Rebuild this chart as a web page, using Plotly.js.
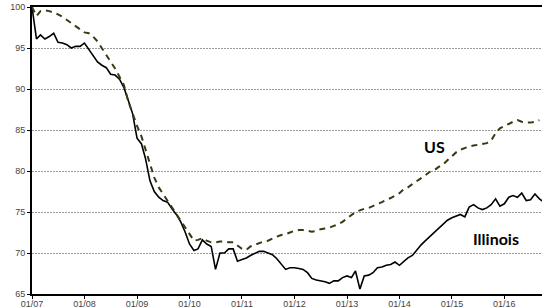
<!DOCTYPE html>
<html><head><meta charset="utf-8">
<script src="https://cdn.plot.ly/plotly-3.0.1.min.js"></script>
<style>html,body{margin:0;padding:0;background:#fff}#chart{width:542px;height:308px}</style>
</head><body><div id="chart"></div>
<script>
// Monthly index, Jan 2007 = 100
const startYear = 2007;
const illinois = [
100.0,96.1,96.6,96.1,96.4,96.8,95.7,95.6,95.4,95.0,95.2,95.2,
95.6,94.8,94.0,93.3,92.9,92.6,91.8,91.7,91.2,90.2,88.6,87.0,
84.0,83.3,81.5,78.8,77.5,76.8,76.4,76.2,75.4,74.7,73.8,72.6,
71.1,70.3,70.5,71.6,71.1,70.8,68.0,70.0,70.0,70.5,70.5,69.0,
69.2,69.4,69.7,70.0,70.2,70.2,70.0,69.8,69.3,68.7,68.0,68.2,
68.2,68.1,68.0,67.6,66.9,66.7,66.6,66.5,66.3,66.6,66.6,67.0,
67.2,67.0,67.8,65.6,67.2,67.3,67.6,68.2,68.3,68.5,68.6,68.9,
68.5,69.0,69.4,69.7,70.4,71.0,71.5,72.0,72.5,73.0,73.5,74.0,
74.3,74.5,74.7,74.4,75.6,75.9,75.5,75.3,75.5,75.9,76.6,75.7,
76.0,76.8,77.0,76.8,77.3,76.4,76.5,77.2,76.6,76.2,76.1
];
const us = [
100.0,98.9,99.5,99.6,99.5,99.3,99.1,98.8,98.4,98.0,97.6,97.3,
96.9,96.8,96.4,95.8,95.0,94.2,93.4,92.5,91.5,90.5,88.5,87.0,
85.5,84.2,82.6,80.8,79.2,78.0,77.2,76.4,75.5,74.7,73.9,73.2,
72.3,71.5,71.6,71.8,71.5,71.3,71.3,71.4,71.4,71.3,71.3,70.9,
70.5,70.4,70.8,71.0,71.2,71.4,71.5,71.8,72.0,72.2,72.3,72.5,
72.7,72.8,72.8,72.7,72.6,72.7,72.9,73.0,73.1,73.3,73.5,73.8,
74.2,74.6,75.0,75.2,75.4,75.5,75.7,76.0,76.2,76.5,76.7,77.0,
77.3,77.8,78.0,78.4,78.8,79.1,79.5,79.9,80.1,80.5,80.8,81.3,
81.8,82.3,82.6,82.8,83.0,83.1,83.2,83.3,83.4,83.7,84.6,85.2,
85.5,85.7,86.0,86.2,86.0,85.9,85.9,86.0,86.2
];
const tickLabels = ['01/07','01/08','01/09','01/10','01/11','01/12','01/13','01/14','01/15','01/16'];
const seriesNames = ['Illinois','US'];

function monthDate(i){
  const y = startYear + Math.floor(i/12);
  const m = (i % 12) + 1;
  return y + '-' + (m < 10 ? '0' : '') + m + '-01';
}
const dates = illinois.map((_, i) => monthDate(i));
const tickVals = tickLabels.map((_, k) => monthDate(k*12));

const traces = [
  {x: dates, y: illinois, name: seriesNames[0], type: 'scatter', mode: 'lines',
   line: {color: '#000000', width: 1.6}},
  {x: dates, y: us, name: seriesNames[1], type: 'scatter', mode: 'lines',
   line: {color: '#3a3a12', width: 2, dash: '6px,5px'}}
];

const layout = {
  width: 542, height: 308,
  margin: {l: 32, r: 0, t: 7, b: 14, pad: 0},
  paper_bgcolor: '#ffffff', plot_bgcolor: '#ffffff',
  showlegend: false,
  xaxis: {
    type: 'date',
    range: ['2007-01-01', '2016-09-19'],
    tickmode: 'array', tickvals: tickVals, ticktext: tickLabels,
    showgrid: false, zeroline: false,
    showline: true, linecolor: '#000', linewidth: 2, mirror: true,
    ticks: 'outside', ticklen: 3, tickcolor: '#000', tickwidth: 1,
    ticklabelstandoff: -3,
    tickfont: {family: 'Liberation Sans, Arial, sans-serif', size: 9, color: '#444'}
  },
  yaxis: {
    range: [65, 100],
    tickmode: 'array', tickvals: [65,70,75,80,85,90,95,100],
    showgrid: true, gridcolor: '#9a9a9a', gridwidth: 1, griddash: '2px,1px',
    zeroline: false,
    showline: true, linecolor: '#000', linewidth: 2,
    ticks: 'outside', ticklen: 3, tickcolor: '#000',
    tickfont: {family: 'Liberation Sans, Arial, sans-serif', size: 9, color: '#444'}
  },
  annotations: [
    {x: '2014-08-30', y: 82.96, xref: 'x', yref: 'y', text: '<b>US</b>', showarrow: false,
     font: {family: 'Lato, sans-serif', size: 16, color: '#000'}},
    {x: '2015-11-04', y: 71.8, xref: 'x', yref: 'y', text: '<b>Illinois</b>', showarrow: false,
     font: {family: 'Lato, sans-serif', size: 16, color: '#000'}}
  ]
};

Plotly.newPlot('chart', traces, layout, {staticPlot: true, displayModeBar: false});
</script>
</body></html>
